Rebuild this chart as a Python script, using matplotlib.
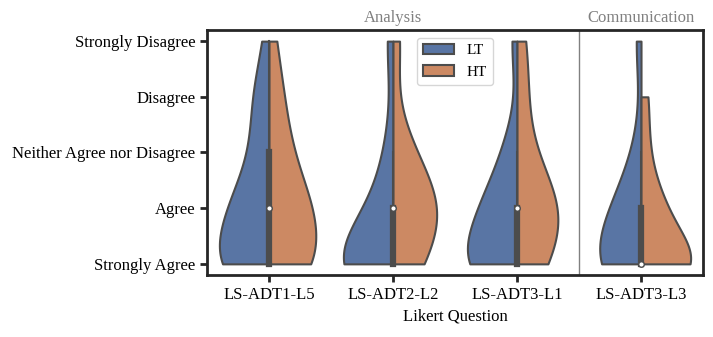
import matplotlib
matplotlib.use('Agg')
import matplotlib.pyplot as plt
import numpy as np

plt.rcParams['font.family'] = ['Liberation Serif', 'DejaVu Serif']

questions = ['LS-ADT1-L5', 'LS-ADT2-L2', 'LS-ADT3-L1', 'LS-ADT3-L3']
likert = ['Strongly Agree', 'Agree', 'Neither Agree nor Disagree',
          'Disagree', 'Strongly Disagree']
levels = [1, 2, 3, 4, 5]

# number of answers per likert level (Strongly Agree .. Strongly Disagree)
lt_counts = [[10, 7, 3, 3, 1],
             [8, 2, 1, 0, 1],
             [8, 5, 2, 0, 1],
             [7, 4, 1, 0, 1]]
ht_counts = [[7, 6, 3, 2, 1],
             [3, 5, 2, 0, 1],
             [3, 5, 1, 1, 1],
             [8, 3, 1, 1, 0]]

lt_color = '#5975a4'
ht_color = '#cc8963'
gray = '#4c4c4c'
lw = 1.5


def expand(counts):
    return np.repeat(levels, counts).astype(float)


def kde(x, grid):
    bw = x.std(ddof=1) * len(x) ** (-1 / 5.)
    z = (grid[:, None] - x[None, :]) / bw
    return np.exp(-0.5 * z ** 2).sum(axis=1) / (len(x) * bw * np.sqrt(2 * np.pi))


fig = plt.figure(figsize=(7.13, 3.37), dpi=100)
ax = fig.add_axes([0.2903, 0.184, 0.6957, 0.727])

for i in range(len(questions)):
    lt = expand(lt_counts[i])
    ht = expand(ht_counts[i])
    sups, dens = [], []
    for x in (lt, ht):
        s = np.linspace(x.min(), x.max(), 100)
        sups.append(s)
        dens.append(kde(x, s))
    scale = max(d.max() for d in dens)
    d_lt = dens[0] / scale * 0.4
    d_ht = dens[1] / scale * 0.4
    ax.fill_betweenx(sups[0], i - d_lt, i, facecolor=lt_color,
                     edgecolor=gray, linewidth=lw, zorder=1)
    ax.fill_betweenx(sups[1], i, i + d_ht, facecolor=ht_color,
                     edgecolor=gray, linewidth=lw, zorder=1)

    # box of all answers for this question
    both = np.concatenate([lt, ht])
    q25, q50, q75 = np.percentile(both, [25, 50, 75])
    iqr = q75 - q25
    lo = both[both >= q25 - 1.5 * iqr].min()
    hi = both[both <= q75 + 1.5 * iqr].max()
    ax.plot([i, i], [lo, hi], color=gray, linewidth=lw, zorder=2)
    ax.plot([i, i], [q25, q75], color=gray, linewidth=lw * 3, zorder=2)
    ax.scatter(i, q50, s=16, color='white', edgecolor=gray,
               linewidth=1.0, zorder=3)

ax.axvline(2.5, color='gray', linewidth=1)

ax.set_xlim(-0.5, 3.5)
ax.set_ylim(0.8, 5.2)
ax.set_xticks(range(len(questions)))
ax.set_xticklabels(questions, fontsize=12)
ax.set_yticks(levels)
ax.set_yticklabels(likert, fontsize=12)
ax.set_xlabel('Likert Question', fontsize=12)
ax.tick_params(length=5, width=2.0, color='#262626')
for sp in ax.spines.values():
    sp.set_linewidth(2.0)
    sp.set_color('#262626')

ax.text(1.0, 5.28, 'Analysis', ha='center', va='bottom', color='gray',
        fontsize=12)
ax.text(3.0, 5.28, 'Communication', ha='center', va='bottom', color='gray',
        fontsize=12)

handles = [plt.Rectangle((0, 0), 0, 0, facecolor=c, edgecolor=gray,
                         linewidth=lw, label=l)
           for c, l in ((lt_color, 'LT'), (ht_color, 'HT'))]
ax.legend(handles=handles, loc='upper center', fontsize=11)

fig.savefig('out.png', dpi=100)
